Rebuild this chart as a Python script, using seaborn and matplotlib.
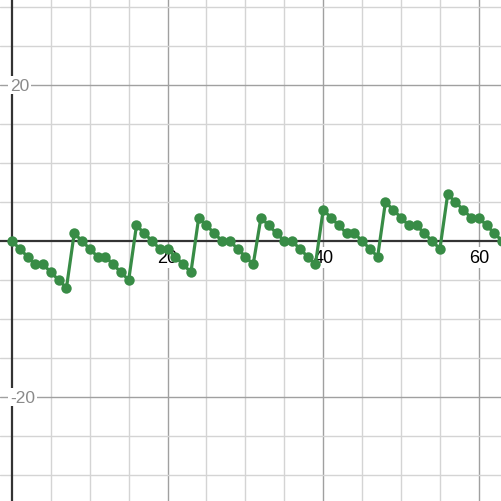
import numpy as np
import pandas as pd
import matplotlib
matplotlib.use("Agg")
import matplotlib.pyplot as plt
import seaborn as sns

# ---------------------------------------------------------------------------
# Data (one point per integer step)
# ---------------------------------------------------------------------------
x_vals = list(range(64))
y_vals = [
    0, -1, -2, -3, -3, -4, -5, -6,
    1, 0, -1, -2, -2, -3, -4, -5,
    2, 1, 0, -1, -1, -2, -3, -4,
    3, 2, 1, 0, 0, -1, -2, -3,
    3, 2, 1, 0, 0, -1, -2, -3,
    4, 3, 2, 1, 1, 0, -1, -2,
    5, 4, 3, 2, 2, 1, 0, -1,
    6, 5, 4, 3, 3, 2, 1, 0,
]
x_tick_labels = [20, 40, 60]
y_tick_labels = [20, -20]

GREEN = "#388c46"
XLIM = (-1.54, 62.98)
YLIM = (-33.33, 31.03)

sns.set_style("white")
plt.rcParams["font.family"] = ["Liberation Sans", "DejaVu Sans"]

fig = plt.figure(figsize=(5.02, 5.02), dpi=100)
ax = fig.add_axes([0, 0, 1, 1])
ax.set_xlim(*XLIM)
ax.set_ylim(*YLIM)
for s in ax.spines.values():
    s.set_visible(False)
ax.set_xticks([])
ax.set_yticks([])

# ---- grid: minor every 5, major every 20 ----
for gx in np.arange(5, 65, 5):
    major = gx % 20 == 0
    ax.axvline(gx, color="#a0a0a0" if major else "#d4d4d4", lw=1.0, zorder=0)
for gy in np.arange(-30, 35, 5):
    if gy == 0:
        continue
    major = gy % 20 == 0
    ax.axhline(gy, color="#a0a0a0" if major else "#d4d4d4", lw=1.0, zorder=0)

# ---- axes through origin ----
ax.axhline(0, color="#333333", lw=1.6, zorder=1)
ax.axvline(0, color="#333333", lw=1.6, zorder=1)

# ---- tick labels ----
for v in x_tick_labels:
    ax.text(v, -1.0, str(v), ha="center", va="top", fontsize=13,
            color="black", zorder=2,
            bbox=dict(boxstyle="square,pad=0.1", fc="white", ec="none"))
for v in y_tick_labels:
    ax.text(0.02, v, str(v), transform=ax.get_yaxis_transform(),
            ha="left", va="center", fontsize=12.5, color="#8a8a8a", zorder=2,
            bbox=dict(boxstyle="square,pad=0.1", fc="white", ec="none"))

# ---- data ----
df = pd.DataFrame({"x": x_vals, "y": y_vals})
sns.lineplot(data=df, x="x", y="y", ax=ax, color=GREEN, lw=2.3,
             marker="o", markersize=7.5, markeredgewidth=0, zorder=3)
ax.set_xlabel("")
ax.set_ylabel("")

fig.savefig("out.png", dpi=100)
